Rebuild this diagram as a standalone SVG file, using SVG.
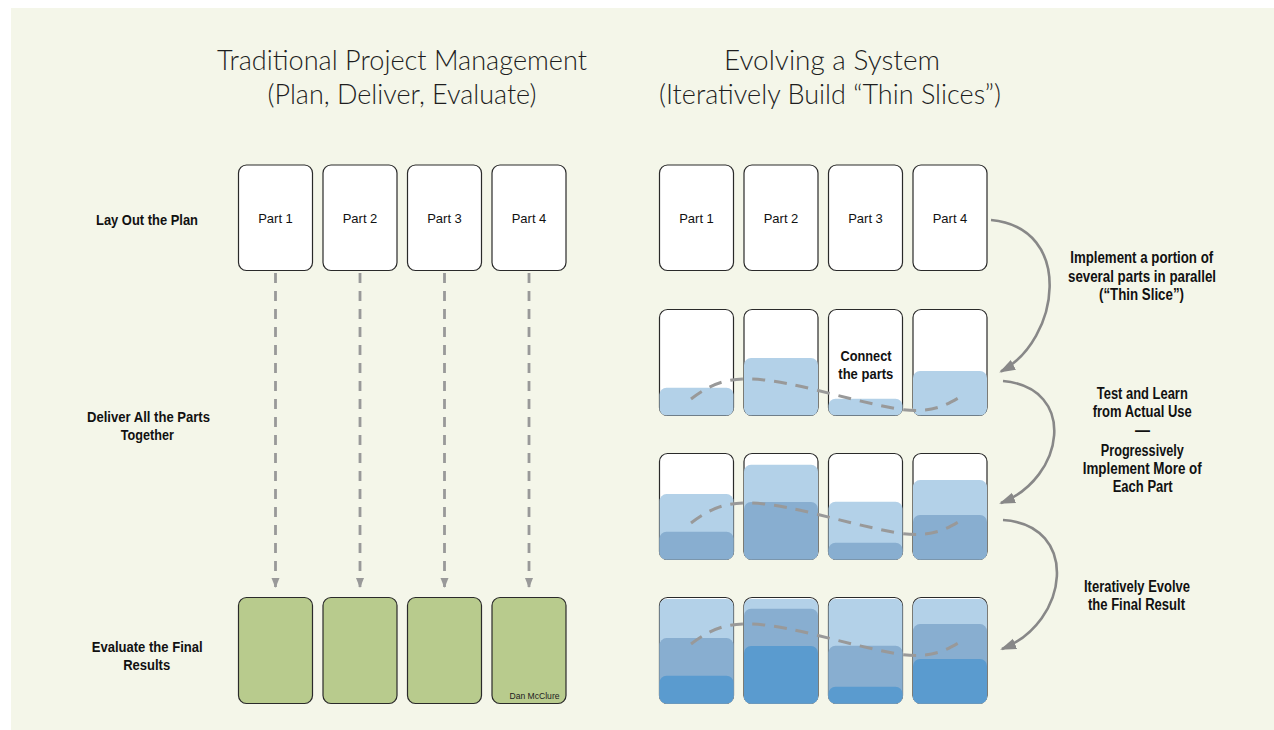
<svg xmlns="http://www.w3.org/2000/svg" width="1274" height="730" viewBox="0 0 1274 730">
<style>
.title{font-family:Lato,"Liberation Sans",Arial,sans-serif;font-size:28px;fill:#1e1e1e;text-anchor:middle;font-weight:300}
.lbl{font-family:"Liberation Sans",Arial,sans-serif;font-weight:bold;fill:#111;text-anchor:middle}
.part{font-family:"Liberation Sans",Arial,sans-serif;font-size:13px;fill:#111;text-anchor:middle}
.box{fill:#fff;stroke:#2a2a2a;stroke-width:1.2}
.green{fill:#b8cb8d;stroke:#2a2a2a;stroke-width:1.2}
.l1{fill:#b3d1e8}
.l2{fill:#88aed0}
.l3{fill:#5a9bcf}
.vdash{fill:none;stroke:#999;stroke-width:2.8;stroke-dasharray:10 8}
.cdash{fill:none;stroke:#999;stroke-width:3;stroke-dasharray:13 9}
.arc{fill:none;stroke:#888;stroke-width:2.6}
</style>
<defs>
<marker id="tri" markerUnits="userSpaceOnUse" markerWidth="10" markerHeight="10" refX="4" refY="9" orient="0" viewBox="0 0 8 10">
<path d="M0,0 L8,0 L4,10 z" fill="#999"/>
</marker>
<marker id="ah" markerUnits="userSpaceOnUse" markerWidth="16" markerHeight="12" refX="14" refY="5.5" orient="auto" viewBox="0 0 16 11">
<path d="M0,0 L16,5.5 L0,11 z" fill="#888"/>
</marker>
<path id="wave" d="M691,399 C712,383 728,378 752,379 C795,381 838,398 898,409 C932,414 946,405 960,397"/>
</defs>
<rect x="0" y="0" width="1274" height="730" fill="#fff"/>
<rect x="11" y="8" width="1263" height="722" fill="#f4f6e9"/>

<g id="titles">
<text class="title" x="402" y="70" textLength="370" lengthAdjust="spacingAndGlyphs">Traditional Project Management</text>
<text class="title" x="402" y="104" textLength="269" lengthAdjust="spacingAndGlyphs">(Plan, Deliver, Evaluate)</text>
<text class="title" x="832" y="70" textLength="216" lengthAdjust="spacingAndGlyphs">Evolving a System</text>
<text class="title" x="830" y="104" textLength="342" lengthAdjust="spacingAndGlyphs">(Iteratively Build “Thin Slices”)</text>
</g>

<g id="left-labels">
<text class="lbl" font-size="14.5" x="147" y="225" textLength="102" lengthAdjust="spacingAndGlyphs">Lay Out the Plan</text>
<text class="lbl" font-size="14.5" x="148.5" y="421.5" textLength="123" lengthAdjust="spacingAndGlyphs">Deliver All the Parts</text>
<text class="lbl" font-size="14.5" x="147.3" y="440" textLength="53" lengthAdjust="spacingAndGlyphs">Together</text>
<text class="lbl" font-size="14.5" x="147.2" y="651.5" textLength="111" lengthAdjust="spacingAndGlyphs">Evaluate the Final</text>
<text class="lbl" font-size="14.5" x="146.7" y="670" textLength="47" lengthAdjust="spacingAndGlyphs">Results</text>
</g>

<g id="right-labels">
<text class="lbl" font-size="16" x="1141.7" y="263" textLength="143" lengthAdjust="spacingAndGlyphs">Implement a portion of</text>
<text class="lbl" font-size="16" x="1142" y="281.5" textLength="148" lengthAdjust="spacingAndGlyphs">several parts in parallel</text>
<text class="lbl" font-size="16" x="1141.5" y="300" textLength="85" lengthAdjust="spacingAndGlyphs">(“Thin Slice”)</text>
<text class="lbl" font-size="16" x="1142.3" y="399" textLength="91" lengthAdjust="spacingAndGlyphs">Test and Learn</text>
<text class="lbl" font-size="16" x="1142.2" y="416.7" textLength="99" lengthAdjust="spacingAndGlyphs">from Actual Use</text>
<text class="lbl" font-size="16" x="1142.5" y="436" textLength="15" lengthAdjust="spacingAndGlyphs">—</text>
<text class="lbl" font-size="16" x="1142.3" y="456" textLength="83" lengthAdjust="spacingAndGlyphs">Progressively</text>
<text class="lbl" font-size="16" x="1142.2" y="474" textLength="119" lengthAdjust="spacingAndGlyphs">Implement More of</text>
<text class="lbl" font-size="16" x="1142.7" y="492.3" textLength="60" lengthAdjust="spacingAndGlyphs">Each Part</text>
<text class="lbl" font-size="16" x="1137" y="591.7" textLength="106" lengthAdjust="spacingAndGlyphs">Iteratively Evolve</text>
<text class="lbl" font-size="16" x="1136.5" y="610" textLength="97" lengthAdjust="spacingAndGlyphs">the Final Result</text>
</g>

<g id="traditional-plan">
<g id="trad-part1"><rect class="box" x="238.5" y="165" width="74" height="105.5" rx="8"/><text class="part" x="275.5" y="223">Part 1</text></g>
<g id="trad-part2"><rect class="box" x="323" y="165" width="74" height="105.5" rx="8"/><text class="part" x="360" y="223">Part 2</text></g>
<g id="trad-part3"><rect class="box" x="407.5" y="165" width="74" height="105.5" rx="8"/><text class="part" x="444.5" y="223">Part 3</text></g>
<g id="trad-part4"><rect class="box" x="492" y="165" width="74" height="105.5" rx="8"/><text class="part" x="529" y="223">Part 4</text></g>
</g>

<g id="traditional-results">
<g id="trad-result1"><rect class="green" x="238.5" y="597.5" width="74" height="106" rx="8"/></g>
<g id="trad-result2"><rect class="green" x="323" y="597.5" width="74" height="106" rx="8"/></g>
<g id="trad-result3"><rect class="green" x="407.5" y="597.5" width="74" height="106" rx="8"/></g>
<g id="trad-result4"><rect class="green" x="492" y="597.5" width="74" height="106" rx="8"/>
<text x="534.5" y="699.3" font-family="'Liberation Sans',Arial,sans-serif" font-size="9" fill="#222" text-anchor="middle" textLength="50" lengthAdjust="spacingAndGlyphs">Dan McClure</text></g>
</g>

<g id="connectors">
<path class="vdash" d="M275.5,273 V587" marker-end="url(#tri)"/>
<path class="vdash" d="M360,273 V587" marker-end="url(#tri)"/>
<path class="vdash" d="M444.5,273 V587" marker-end="url(#tri)"/>
<path class="vdash" d="M529,273 V587" marker-end="url(#tri)"/>
<path class="arc" d="M991,220 C1075,228 1060,340 1001,371.5" marker-end="url(#ah)"/>
<path class="arc" d="M1003,381 C1078,388 1065,478 1001,503" marker-end="url(#ah)"/>
<path class="arc" d="M1003,520 C1080,525 1070,622 1002,649" marker-end="url(#ah)"/>
</g>

<g id="evolve-plan">
<g id="evo-part1"><rect class="box" x="659.5" y="165" width="74" height="105.5" rx="8"/><text class="part" x="696.5" y="223">Part 1</text></g>
<g id="evo-part2"><rect class="box" x="744" y="165" width="74" height="105.5" rx="8"/><text class="part" x="781" y="223">Part 2</text></g>
<g id="evo-part3"><rect class="box" x="828.5" y="165" width="74" height="105.5" rx="8"/><text class="part" x="865.5" y="223">Part 3</text></g>
<g id="evo-part4"><rect class="box" x="913" y="165" width="74" height="105.5" rx="8"/><text class="part" x="950" y="223">Part 4</text></g>
</g>

<g id="evolve-slice1">
<g id="s1-1"><rect class="box" x="659.5" y="309.5" width="74" height="106" rx="8"/><rect class="l1" x="659.5" y="387.8" width="74" height="27.7" rx="7"/></g>
<g id="s1-2"><rect class="box" x="744" y="309.5" width="74" height="106" rx="8"/><rect class="l1" x="744" y="358" width="74" height="57.5" rx="7"/></g>
<g id="s1-3"><rect class="box" x="828.5" y="309.5" width="74" height="106" rx="8"/><rect class="l1" x="828.5" y="398.7" width="74" height="16.8" rx="7"/>
<text class="lbl" font-size="15" x="866" y="361" textLength="51" lengthAdjust="spacingAndGlyphs">Connect</text>
<text class="lbl" font-size="15" x="865.8" y="379.3" textLength="55" lengthAdjust="spacingAndGlyphs">the parts</text></g>
<g id="s1-4"><rect class="box" x="913" y="309.5" width="74" height="106" rx="8"/><rect class="l1" x="913" y="371" width="74" height="44.5" rx="7"/></g>
<use href="#wave" class="cdash"/>
</g>

<g id="evolve-slice2">
<g id="s2-1"><rect class="box" x="659.5" y="453.5" width="74" height="106" rx="8"/><rect class="l1" x="659.5" y="494.1" width="74" height="65.4" rx="7"/><rect class="l2" x="659.5" y="531.8" width="74" height="27.7" rx="7"/></g>
<g id="s2-2"><rect class="box" x="744" y="453.5" width="74" height="106" rx="8"/><rect class="l1" x="744" y="464.8" width="74" height="94.7" rx="7"/><rect class="l2" x="744" y="502" width="74" height="57.5" rx="7"/></g>
<g id="s2-3"><rect class="box" x="828.5" y="453.5" width="74" height="106" rx="8"/><rect class="l1" x="828.5" y="501.8" width="74" height="57.7" rx="7"/><rect class="l2" x="828.5" y="542.7" width="74" height="16.8" rx="7"/></g>
<g id="s2-4"><rect class="box" x="913" y="453.5" width="74" height="106" rx="8"/><rect class="l1" x="913" y="480.1" width="74" height="79.4" rx="7"/><rect class="l2" x="913" y="515" width="74" height="44.5" rx="7"/></g>
<use href="#wave" class="cdash" transform="translate(0,124)"/>
</g>

<g id="evolve-slice3">
<g id="s3-1"><rect class="box" x="659.5" y="597.5" width="74" height="106" rx="8"/><rect class="l1" x="659.5" y="599" width="74" height="104.5" rx="7"/><rect class="l2" x="659.5" y="638.1" width="74" height="65.4" rx="7"/><rect class="l3" x="659.5" y="675.8" width="74" height="27.7" rx="7"/></g>
<g id="s3-2"><rect class="box" x="744" y="597.5" width="74" height="106" rx="8"/><rect class="l1" x="744" y="599" width="74" height="104.5" rx="7"/><rect class="l2" x="744" y="608.8" width="74" height="94.7" rx="7"/><rect class="l3" x="744" y="646" width="74" height="57.5" rx="7"/></g>
<g id="s3-3"><rect class="box" x="828.5" y="597.5" width="74" height="106" rx="8"/><rect class="l1" x="828.5" y="599" width="74" height="104.5" rx="7"/><rect class="l2" x="828.5" y="645.8" width="74" height="57.7" rx="7"/><rect class="l3" x="828.5" y="686.7" width="74" height="16.8" rx="7"/></g>
<g id="s3-4"><rect class="box" x="913" y="597.5" width="74" height="106" rx="8"/><rect class="l1" x="913" y="599" width="74" height="104.5" rx="7"/><rect class="l2" x="913" y="624.1" width="74" height="79.4" rx="7"/><rect class="l3" x="913" y="659" width="74" height="44.5" rx="7"/></g>
<use href="#wave" class="cdash" transform="translate(0,245)"/>
</g>
</svg>
